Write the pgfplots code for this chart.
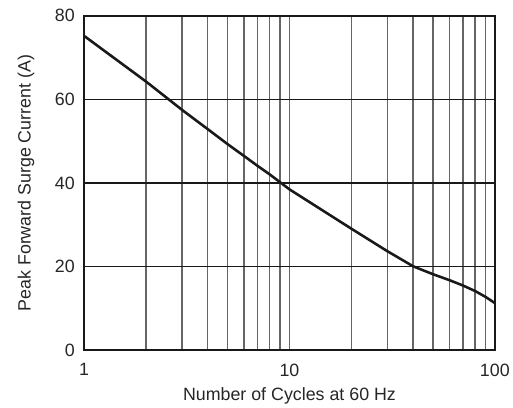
\documentclass[border=0pt]{standalone}
\usepackage{pgfplots}
\pgfplotsset{compat=1.18}
\usepackage{fontspec}
\setmainfont{Liberation Sans}
\begin{document}
\begin{tikzpicture}
\begin{axis}[
    xmode=log,
    log basis x=10,
    xmin=1, xmax=100,
    ymin=0, ymax=80,
    width=415pt, height=338pt,
    scale only axis,
    xtick={1,10,100},
    xticklabels={1,10,100},
    minor xtick={2,3,4,5,6,7,8,9,20,30,40,50,60,70,80,90},
    ytick={0,20,40,60,80},
    major tick length=0pt,
    minor tick length=0pt,
    xminorgrids,
    xmajorgrids,
    ymajorgrids,
    minor x grid style={black!60, line width=1.3pt},
    major x grid style={black!60, line width=1.3pt},
    major y grid style={black!90, line width=1.2pt},
    axis line style={line width=2.2pt, black!90},
    tick label style={font=\fontsize{18}{20}\selectfont, black!85},
    label style={font=\fontsize{18}{20}\selectfont, black!85},
    /pgf/number format/assume math mode=true,
    xticklabel style={yshift=-10pt},
    yticklabel style={xshift=-6pt},
    xlabel={Number of Cycles at 60 Hz},
    ylabel={Peak Forward Surge Current (A)},
    xlabel style={yshift=-4pt},
    ylabel style={yshift=14pt},
]
\addplot[black!90, line width=2.6pt, mark=none] coordinates {
    (1,75.2) (2,64.3) (3,57.5) (4,52.9) (5,49.3) (6,46.5) (7,44.1)
    (8,42.1) (9,40.2) (10,38.5) (20,29.1) (30,23.7) (40,20.1)
    (50,18.2) (60,16.8) (70,15.5) (80,14.2) (90,12.8) (100,11.3)
};
\draw[black!90, line width=2.2pt] (rel axis cs:0,0) rectangle (rel axis cs:1,1);
\end{axis}
\path (current axis.south west) ++(-85pt,-55pt);
\path (current axis.north east) ++(13pt,16pt);
\end{tikzpicture}
\end{document}
